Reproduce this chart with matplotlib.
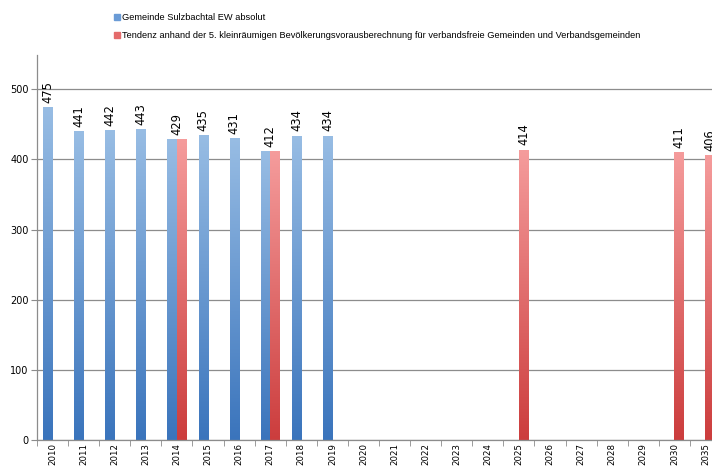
import numpy as np
import matplotlib.pyplot as plt
from matplotlib.colors import LinearSegmentedColormap
from matplotlib.patches import Rectangle

years = ['2010', '2011', '2012', '2013', '2014', '2015', '2016', '2017', '2018', '2019',
         '2020', '2021', '2022', '2023', '2024', '2025', '2026', '2027', '2028', '2029',
         '2030', '2035']
ew_absolut = [475, 441, 442, 443, 429, 435, 431, 412, 434, 434,
              None, None, None, None, None, None, None, None, None, None, None, None]
tendenz = [None, None, None, None, 429, None, None, 412, None, None,
           None, None, None, None, None, 414, None, None, None, None, 411, 406]

label_blue = 'Gemeinde Sulzbachtal EW absolut'
label_red = ('Tendenz anhand der 5. kleinräumigen Bevölkerungsvorausberechnung '
             'für verbandsfreie Gemeinden und Verbandsgemeinden')

blue_cmap = LinearSegmentedColormap.from_list('blue', ['#3a74bc', '#98bde4'])
red_cmap = LinearSegmentedColormap.from_list('red', ['#cc3d3d', '#f59c9c'])

fig = plt.figure(figsize=(7.12, 4.66), dpi=100)
ax = fig.add_axes([37 / 712, 26 / 466, 684 / 712, 385 / 466])

w = 0.305
grad = np.linspace(0, 1, 256).reshape(-1, 1)


def gradient_bars(xs, vals, cmap):
    xs = [x for x, v in zip(xs, vals) if v is not None]
    vs = [v for v in vals if v is not None]
    bars = ax.bar(xs, vs, width=w, align='edge', color='none', zorder=2)
    for b in bars:
        x0, y0 = b.get_x(), b.get_y()
        im = ax.imshow(grad, cmap=cmap, origin='lower', aspect='auto',
                       extent=(x0, x0 + b.get_width(), y0, y0 + b.get_height()),
                       zorder=2)
        im.set_clip_path(b)
    return bars


idx = np.arange(len(years))
gradient_bars(idx - w, ew_absolut, blue_cmap)
gradient_bars(idx, tendenz, red_cmap)

# value labels
for i in idx:
    b, r = ew_absolut[i], tendenz[i]
    if b is not None and r is not None:
        x, v = i, max(b, r)
    elif b is not None:
        x, v = i - w / 2, b
    elif r is not None:
        x, v = i + w / 2, r
    else:
        continue
    ax.text(x, v + 6, str(v), rotation=90, ha='center', va='bottom',
            fontsize=8.3, color='black', zorder=3)

ax.set_xlim(-0.5, len(years) - 0.5)
ax.set_ylim(0, 549)
ax.set_yticks(range(0, 501, 100))
ax.yaxis.grid(True, color='#8c8c8c', linewidth=0.9, zorder=0)
ax.set_axisbelow(True)

ax.set_xticks(idx)
ax.set_xticklabels(years, rotation=90, fontsize=6.2)
ax.set_xticks(np.arange(-0.5, len(years), 1), minor=True)
ax.tick_params(axis='x', which='major', length=0, pad=2)
ax.tick_params(axis='x', which='minor', length=4, color='#8c8c8c')
ax.tick_params(axis='y', labelsize=7, length=4, color='#8c8c8c', pad=2)

for s in ['top', 'right']:
    ax.spines[s].set_visible(False)
for s in ['left', 'bottom']:
    ax.spines[s].set_color('#8c8c8c')
    ax.spines[s].set_linewidth(0.9)

# legend at top
for k, (txt, col) in enumerate([(label_blue, '#6a9bd6'), (label_red, '#e46b6b')]):
    y = 1 - (17 + 18 * k) / 466
    fig.patches.append(Rectangle((114 / 712, y - 3 / 466), 6 / 712, 6 / 466,
                                 transform=fig.transFigure, color=col))
    fig.text(122 / 712, y, txt, fontsize=6.65, va='center', ha='left',
             family='Liberation Sans')

fig.savefig('out.png', dpi=100)
